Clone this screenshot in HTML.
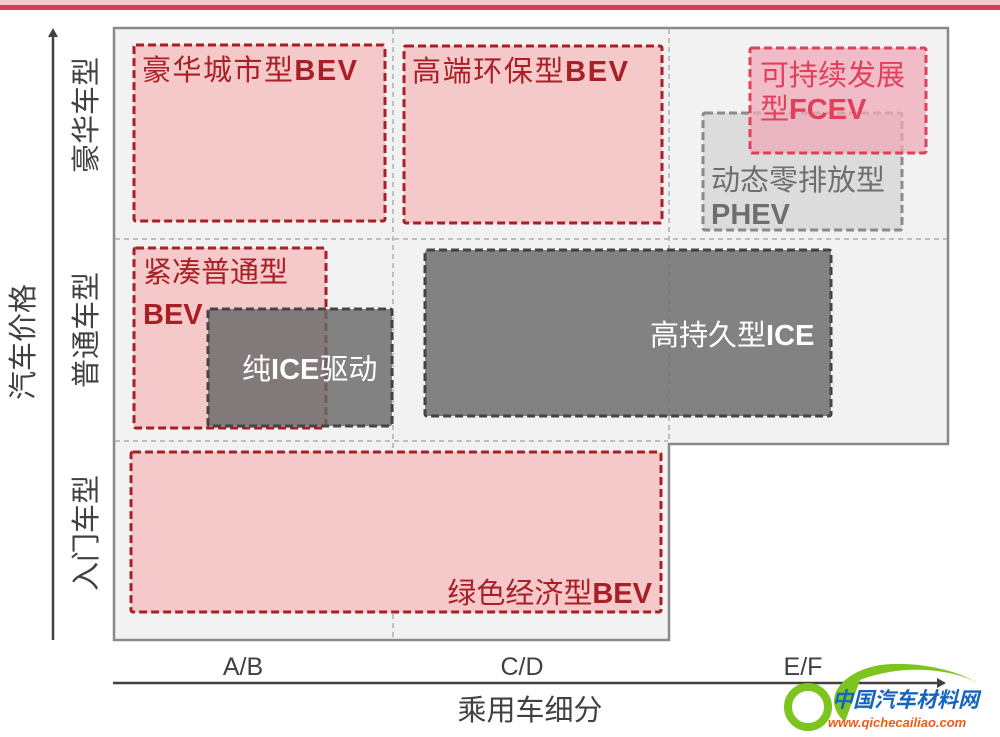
<!DOCTYPE html>
<html><head><meta charset="utf-8"><style>
html,body{margin:0;padding:0;background:#fff;}
svg{display:block;}
text{font-family:"Liberation Sans","Noto Sans CJK SC",sans-serif;}
</style></head><body>
<svg width="1000" height="737" viewBox="0 0 1000 737" xmlns="http://www.w3.org/2000/svg">
<rect x="0" y="0" width="1000" height="5" fill="#f3c8cf"/>
<rect x="0" y="5" width="1000" height="5" fill="#dc3a55"/>
<path d="M114 28 H948 V444 H669 V640 H114 Z" fill="#f2f2f2" stroke="#8a8a8a" stroke-width="2.5"/>
<g stroke="#b0b0b0" stroke-width="1.5" stroke-dasharray="5,4" fill="none">
<line x1="393" y1="29" x2="393" y2="639"/>
<line x1="669" y1="29" x2="669" y2="443"/>
<line x1="115" y1="239" x2="947" y2="239"/>
<line x1="115" y1="441" x2="668" y2="441"/>
</g>
<g fill="#f5c9c9" stroke="#a81f26" stroke-width="3" stroke-dasharray="8,4">
<rect x="134" y="45" width="251" height="176" rx="2"/>
<rect x="404" y="46" width="258" height="177" rx="2"/>
<rect x="134" y="248" width="192" height="180" rx="2"/>
<rect x="131" y="452" width="530" height="160" rx="2"/>
</g>
<rect x="703" y="113" width="199" height="117" fill="#dcdcdc" stroke="#8a8a8a" stroke-width="3" stroke-dasharray="8,4" rx="2"/>
<rect x="750" y="48" width="176" height="105" fill="rgba(240,170,185,0.75)" stroke="#e0405a" stroke-width="3" stroke-dasharray="8,4" rx="2"/>
<g fill="rgba(105,105,105,0.82)" stroke="#444" stroke-width="3" stroke-dasharray="8,4">
<rect x="208" y="309" width="184" height="117" rx="2"/>
<rect x="425" y="250" width="406" height="166" rx="2"/>
</g>
<g font-size="29" fill="#a81f26">
<text x="142" y="80" textLength="215">豪华城市型<tspan font-weight="bold">BEV</tspan></text>
<text x="412" y="81" textLength="216">高端环保型<tspan font-weight="bold">BEV</tspan></text>
<text x="143" y="282">紧凑普通型</text>
<text x="143" y="324" font-weight="bold">BEV</text>
<text x="652" y="603" text-anchor="end">绿色经济型<tspan font-weight="bold">BEV</tspan></text>
</g>
<g font-size="29" fill="#e0405a">
<text x="760" y="85">可持续发展</text>
<text x="760" y="119">型<tspan font-weight="bold">FCEV</tspan></text>
</g>
<g font-size="29" fill="#6e6e6e">
<text x="711" y="190">动态零排放型</text>
<text x="711" y="224" font-weight="bold">PHEV</text>
</g>
<g font-size="29" fill="#fff">
<text x="242" y="379">纯<tspan font-weight="bold">ICE</tspan>驱动</text>
<text x="650" y="345">高持久型<tspan font-weight="bold">ICE</tspan></text>
</g>
<g stroke="#404040" stroke-width="2.5" fill="none">
<line x1="53" y1="640" x2="53" y2="36"/>
<line x1="113" y1="683" x2="938" y2="683"/>
</g>
<path d="M53 28 L48 37 L58 37 Z" fill="#404040"/>
<path d="M946 683 L937 678 L937 688 Z" fill="#404040"/>
<g font-size="25" fill="#404040" text-anchor="middle">
<text x="243" y="675">A/B</text>
<text x="522" y="675">C/D</text>
<text x="803" y="675">E/F</text>
</g>
<g font-size="29" fill="#404040" text-anchor="middle">
<text x="530" y="720">乘用车细分</text>
<text transform="translate(96,115) rotate(-90)">豪华车型</text>
<text transform="translate(96,330) rotate(-90)">普通车型</text>
<text transform="translate(96,533) rotate(-90)">入门车型</text>
<text transform="translate(33,342) rotate(-90)">汽车价格</text>
</g>
<path d="M845 722 C820 700 840 672 880 665 C920 660 960 672 978 683 C950 668 900 664 860 680" fill="#7dc41f"/>
<circle cx="808" cy="707" r="20" fill="none" stroke="#7dc41f" stroke-width="8"/>
<text x="832" y="707" font-size="21" font-weight="bold" font-style="italic" fill="#1565c0">中国汽车材料网</text>
<text x="828" y="727" font-size="13" font-weight="bold" font-style="italic" fill="#f05a1a">www.qichecailiao.com</text>
</svg>
</body></html>
